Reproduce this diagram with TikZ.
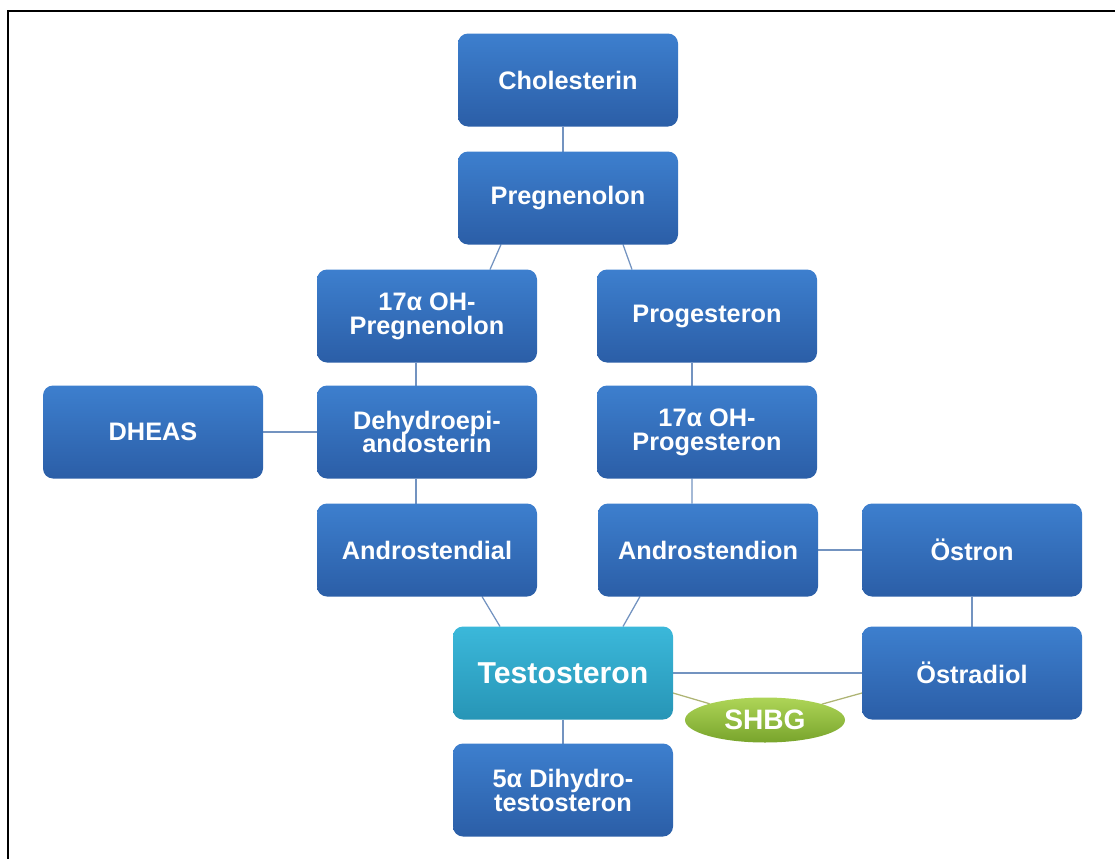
\documentclass[tikz,border=0pt]{standalone}
\usepackage{fontspec}
\setmainfont{Liberation Sans}
\usepackage{tikz}
\usetikzlibrary{
	backgrounds,
	shapes.geometric,
	}
\definecolor{boxtop}{HTML}{3D7FCE}
\definecolor{boxbot}{HTML}{2B5EA7}
\definecolor{testotop}{HTML}{3BB8DA}
\definecolor{testobot}{HTML}{2795B6}
\definecolor{shbgtop}{HTML}{AED557}
\definecolor{shbgbot}{HTML}{78A42C}
\definecolor{linkblue}{HTML}{7393C0}
\definecolor{linkolive}{HTML}{AEB474}

\begin{document}
\begin{tikzpicture}[hormone/.style={shape=rectangle,rounded corners=0.25cm,minimum width=5.5cm,minimum height=2.325cm,inner sep=0pt,outer sep=0pt,top color=boxtop,bottom color=boxbot,text=white,align=center,font=\fontsize{18}{17}\selectfont\bfseries},
	link/.style={line width=0.9pt,draw=linkblue},
	binding/.style={line width=0.9pt,draw=linkolive}]
\useasboundingbox (0,0) rectangle (27.875,-21.475);
\draw[line width=1.5pt] (0.21,-21.475) -- (0.21,-0.275) -- (27.875,-0.275);
\node[hormone] (chol) at (14.2,-2.0) {Cholesterin};
\node[hormone] (preg) at (14.2,-4.95) {Pregnenolon};
\node[hormone] (ohpreg) at (10.675,-7.9) {17α OH-\\Pregnenolon};
\node[hormone] (prog) at (17.675,-7.9) {Progesteron};
\node[hormone] (dheas) at (3.825,-10.8) {DHEAS};
\node[hormone] (dhea) at (10.675,-10.8) {Dehydroepi-\\andosterin};
\node[hormone] (ohprog) at (17.675,-10.8) {17α OH-\\Progesteron};
\node[hormone] (adiol) at (10.675,-13.75) {Androstendial};
\node[hormone] (adion) at (17.7,-13.75) {Androstendion};
\node[hormone] (estron) at (24.3,-13.75) {Östron};
\node[hormone,top color=testotop,bottom color=testobot,font=\fontsize{21.5}{24}\selectfont\bfseries] (testo) at (14.075,-16.825) {Testosteron};
\node[hormone] (estrad) at (24.3,-16.825) {Östradiol};
\node[hormone] (dht) at (14.075,-19.75) {5α Dihydro-\\testosteron};
\node[shape=ellipse,minimum width=4cm,minimum height=1.125cm,inner sep=0pt,outer sep=0pt,top color=shbgtop,bottom color=shbgbot,text=white,font=\fontsize{20}{22}\selectfont\bfseries] (shbg) at (19.125,-18.0) {SHBG};
\begin{scope}[on background layer]
\draw[link] ([xshift=-0.125cm]chol.south) -- ([xshift=-0.125cm]preg.north);
\draw[link] ([xshift=-1.675cm]preg.south) -- ([xshift=1.575cm]ohpreg.north);
\draw[link] ([xshift=1.375cm]preg.south) -- ([xshift=-1.875cm]prog.north);
\draw[link] ([xshift=-0.275cm]ohpreg.south) -- ([xshift=-0.275cm]dhea.north);
\draw[link] (dheas) -- (dhea);
\draw[link] ([xshift=-0.275cm]dhea.south) -- ([xshift=-0.275cm]adiol.north);
\draw[link] ([xshift=-0.375cm]prog.south) -- ([xshift=-0.375cm]ohprog.north);
\draw[link] ([xshift=-0.375cm]ohprog.south) -- ([xshift=-0.4cm]adion.north);
\draw[link] ([xshift=1.375cm]adiol.south) -- ([xshift=-1.575cm]testo.north);
\draw[link] ([xshift=-1.7cm]adion.south) -- ([xshift=1.5cm]testo.north);
\draw[link] (adion) -- (estron);
\draw[link] (estron) -- (estrad);
\draw[link] (testo) -- (estrad);
\draw[link] (testo) -- (dht);
\draw[binding] ([yshift=-0.5cm]testo.east) -- (shbg);
\draw[binding] (shbg) -- ([yshift=-0.5cm]estrad.west);
\end{scope}
\end{tikzpicture}
\end{document}
